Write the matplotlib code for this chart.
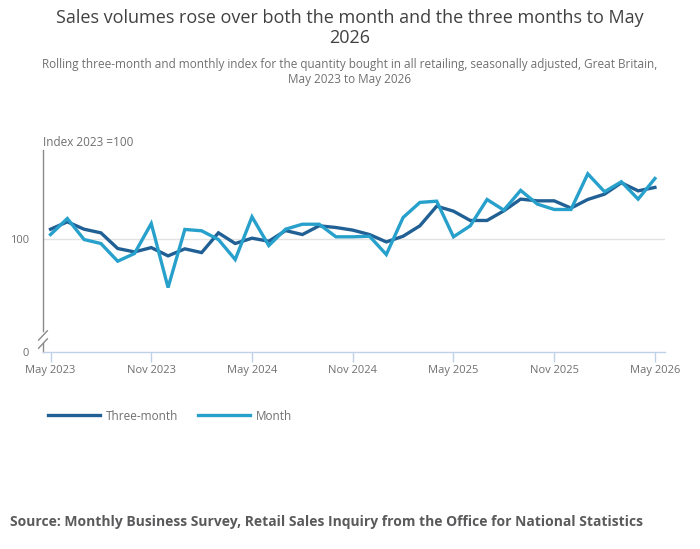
import matplotlib.pyplot as plt
import matplotlib.lines as mlines

plt.rcParams['font.family'] = ['Open Sans', 'DejaVu Sans']

# Monthly periods, May 2023 to May 2026
months = ['May 2023', 'Jun 2023', 'Jul 2023', 'Aug 2023', 'Sep 2023', 'Oct 2023',
          'Nov 2023', 'Dec 2023', 'Jan 2024', 'Feb 2024', 'Mar 2024', 'Apr 2024',
          'May 2024', 'Jun 2024', 'Jul 2024', 'Aug 2024', 'Sep 2024', 'Oct 2024',
          'Nov 2024', 'Dec 2024', 'Jan 2025', 'Feb 2025', 'Mar 2025', 'Apr 2025',
          'May 2025', 'Jun 2025', 'Jul 2025', 'Aug 2025', 'Sep 2025', 'Oct 2025',
          'Nov 2025', 'Dec 2025', 'Jan 2026', 'Feb 2026', 'Mar 2026', 'Apr 2026',
          'May 2026']

three_month = [108.2, 114.7, 108.2, 105.0, 91.2, 88.2, 92.0, 84.7, 90.9, 87.6,
               105.0, 95.6, 100.3, 97.6, 107.0, 103.5, 111.2, 109.7, 107.4, 103.5,
               97.0, 102.0, 111.2, 128.5, 124.1, 115.9, 115.9, 124.4, 134.7, 133.2,
               133.2, 126.8, 134.4, 139.1, 149.1, 142.0, 145.0]

month = [103.5, 117.6, 99.1, 95.6, 80.0, 86.8, 113.2, 56.8, 108.0, 106.8,
         99.1, 81.5, 119.1, 93.8, 108.2, 112.6, 112.6, 101.5, 101.5, 102.0,
         85.9, 118.5, 131.8, 132.9, 101.5, 111.2, 134.4, 125.0, 142.4, 130.3,
         125.6, 125.6, 157.0, 141.2, 150.0, 134.7, 152.9]

tick_idx = [0, 6, 12, 18, 24, 30, 36]

dark_blue = '#206095'
light_blue = '#27a0cc'
text_grey = '#414042'
label_grey = '#707071'
spine_grey = '#8a8a8a'

fig = plt.figure(figsize=(7, 5.49), dpi=100, facecolor='white')
ax = fig.add_axes([0.0614, 0.3588, 0.8886, 0.368])

x = list(range(len(months)))
ax.plot(x, three_month, color=dark_blue, linewidth=2.4, solid_joinstyle='miter', zorder=3)
ax.plot(x, month, color=light_blue, linewidth=2.4, solid_joinstyle='miter', zorder=4)

ax.set_xlim(-0.45, 36.6)
ax.set_ylim(0, 178)

#  Gridline at 100 only
ax.axhline(100, color='#e2e2e2', linewidth=1, zorder=1)
ax.set_yticks([0, 100])
ax.set_yticklabels(['0', '100'], color=label_grey, fontsize=8)
ax.tick_params(axis='y', length=0, pad=10)

ax.set_xticks(tick_idx)
ax.set_xticklabels([months[i] for i in tick_idx], color=label_grey, fontsize=8)
ax.tick_params(axis='x', length=7, color='#bfd0e8', width=1, pad=2)

for s in ['top', 'right', 'left']:
    ax.spines[s].set_visible(False)
ax.spines['bottom'].set_color('#bfd0e8')
ax.spines['bottom'].set_linewidth(1)

#  Left axis drawn by hand with a break near the bottom
ax.plot([0, 0], [1.0, 0.104], color=spine_grey, linewidth=1, transform=ax.transAxes, clip_on=False)
ax.plot([0, 0], [0.045, 0.0], color=spine_grey, linewidth=1, transform=ax.transAxes, clip_on=False)
for cy in [0.082, 0.042]:
    ax.plot([-0.007, 0.007], [cy - 0.023, cy + 0.023], color=spine_grey, linewidth=1,
            transform=ax.transAxes, clip_on=False)

#  Axis title
fig.text(43 / 700, 1 - 142 / 549, 'Index 2023 =100', color=label_grey, fontsize=8.5,
         ha='left', va='center')

#  Titles
fig.text(0.5, 1 - 28 / 549, 'Sales volumes rose over both the month and the three months to May\n2026',
         ha='center', va='center', fontsize=13, color=text_grey, linespacing=1.2)
fig.text(0.5, 1 - 72 / 549,
         'Rolling three-month and monthly index for the quantity bought in all retailing, seasonally adjusted, Great Britain,\nMay 2023 to May 2026',
         ha='center', va='center', fontsize=8.5, color=label_grey, linespacing=1.25)

#  Legend
three_legend = mlines.Line2D([], [], color=dark_blue, linewidth=2.4, label='Three-month')
month_legend = mlines.Line2D([], [], color=light_blue, linewidth=2.4, label='Month')
fig.legend(handles=[three_legend, month_legend], loc='center left',
           bbox_to_anchor=(48 / 700, 1 - 416 / 549), ncol=2, frameon=False,
           fontsize=8.5, handlelength=4.4, handletextpad=0.5, columnspacing=1.7,
           labelcolor=label_grey, borderpad=0, borderaxespad=0)

#  Source
fig.text(10 / 700, 1 - 522 / 549,
         'Source: Monthly Business Survey, Retail Sales Inquiry from the Office for National Statistics',
         ha='left', va='center', fontsize=10, fontweight='bold', color='#5a5a5c')

fig.savefig('out.png', dpi=100, facecolor='white')
